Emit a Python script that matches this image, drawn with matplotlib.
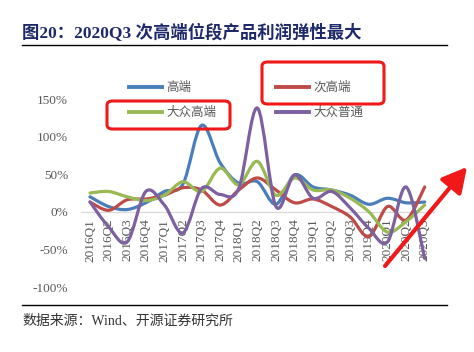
import numpy as np
import matplotlib
matplotlib.use('Agg')
import matplotlib.pyplot as plt
from matplotlib.path import Path
from matplotlib.patches import PathPatch, FancyBboxPatch
from matplotlib.lines import Line2D

plt.rcParams['font.family'] = ['Liberation Serif', 'Noto Sans CJK SC', 'DejaVu Sans']

quarters = ['2016Q1', '2016Q2', '2016Q3', '2016Q4', '2017Q1', '2017Q2', '2017Q3', '2017Q4',
            '2018Q1', '2018Q2', '2018Q3', '2018Q4', '2019Q1', '2019Q2', '2019Q3', '2019Q4',
            '2020Q1', '2020Q2', '2020Q3']

# profit growth, %
high_end = [20, 7, 3, 12, 27, 37, 115, 65, 38, 40, 10, 49, 33, 29, 22, 10, 18, 12, 13]
sub_high = [13, 2, 16, 17, 22, 32, 29, 9, 29, 45, 29, 12, 17, 7, -7, -33, 7, -11, 33]
mass_high = [25, 27, 20, 15, 22, 40, 27, 58, 36, 67, 22, 45, 29, 29, 18, 0, -27, -13, 9]
mass_normal = [13, -20, -40, 27, 9, -28, 31, 23, 31, 138, 7, 49, 18, 27, 5, -22, -40, 33, -62]

series = [('高端', high_end, '#4a7ebb'),
          ('次高端', sub_high, '#be4b48'),
          ('大众高端', mass_high, '#98b954'),
          ('大众普通', mass_normal, '#7d60a0')]

W, H = 474, 352


def px(x, y):
    # figure pixel (from top-left) -> figure fraction
    return x / W, 1 - y / H


def smooth_path(xs, ys):
    # excel style smoothed line, catmull-rom as cubic bezier
    pts = np.column_stack([xs, ys]).astype(float)
    n = len(pts)
    verts = [pts[0]]
    codes = [Path.MOVETO]
    for i in range(n - 1):
        p0 = pts[max(i - 1, 0)]
        p1 = pts[i]
        p2 = pts[i + 1]
        p3 = pts[min(i + 2, n - 1)]
        c1 = p1 + (p2 - p0) / 6
        c2 = p2 - (p3 - p1) / 6
        verts += [c1, c2, p2]
        codes += [Path.CURVE4] * 3
    return Path(verts, codes)


fig = plt.figure(figsize=(4.74, 3.52), dpi=100)
ax = fig.add_axes([80.7 / W, 1 - 287 / H, (434 - 80.7) / W, (287 - 99) / H])

x = np.arange(len(quarters))
handles = {}
for name, vals, color in series:
    patch = PathPatch(smooth_path(x, vals), facecolor='none', edgecolor=color,
                      lw=2.3, capstyle='round', joinstyle='round', zorder=3)
    ax.add_patch(patch)
    handles[name] = Line2D([], [], color=color, lw=2.8)

for s in ['top', 'right', 'left']:
    ax.spines[s].set_visible(False)
ax.spines['bottom'].set_position(('data', 0))
ax.spines['bottom'].set_color('#d9d9d9')
ax.spines['bottom'].set_linewidth(0.9)

ax.set_xlim(-0.5, len(quarters) - 0.5)
ax.set_ylim(-100, 150)
ax.set_yticks([-100, -50, 0, 50, 100, 150])
ax.set_yticklabels(['%d%%' % v for v in [-100, -50, 0, 50, 100, 150]])
ax.set_xticks(x)
ax.set_xticklabels(quarters)
ax.tick_params(axis='y', length=0, pad=9, labelsize=9.5, labelcolor='#595959')
ax.tick_params(axis='x', length=0, pad=5, labelsize=9.5, labelcolor='#595959',
               labelrotation=90)

# legend, two columns
leg_font = {'family': ['Noto Sans CJK SC'], 'size': 9}
for names, left in [(['高端', '大众高端'], 129), (['次高端', '大众普通'], 276)]:
    fig.legend([handles[n] for n in names], names,
               loc='center left', bbox_to_anchor=px(left, 100), frameon=False,
               prop=leg_font, handlelength=2.6, handletextpad=0.4,
               labelspacing=0.95, borderpad=0, borderaxespad=0, labelcolor='#595959')

# red highlight boxes and arrow
for (x0, y0, x1, y1) in [(107, 101, 230, 129), (262, 62, 384, 104)]:
    fx0, fy1 = px(x0, y0)
    fx1, fy0 = px(x1, y1)
    box = FancyBboxPatch((fx0, fy0), fx1 - fx0, fy1 - fy0,
                         boxstyle='round,pad=0,rounding_size=0.012',
                         transform=fig.transFigure, facecolor='none',
                         edgecolor='#f01818', lw=2.2, zorder=5)
    fig.patches.append(box)

ax.annotate('', xy=px(467, 167), xycoords='figure fraction',
            xytext=px(385, 266), textcoords='figure fraction',
            arrowprops=dict(arrowstyle='-|>,head_length=0.6,head_width=0.32',
                            color='#f01818', lw=3, mutation_scale=25,
                            shrinkA=0, shrinkB=0),
            annotation_clip=False, zorder=6)

# title, rules, source
fig.text(*px(22, 33), '图20：2020Q3 次高端位段产品利润弹性最大', fontsize=12.5,
         fontweight='bold', color='#1f2a6b', va='center', ha='left')
fig.add_artist(Line2D([22 / W, 447 / W], [1 - 45 / H, 1 - 45 / H], color='black', lw=1))
fig.add_artist(Line2D([22 / W, 447 / W], [1 - 305 / H, 1 - 305 / H], color='black', lw=1))
fig.text(*px(22, 321), '数据来源：Wind、开源证券研究所', fontsize=10,
         color='#333333', va='center', ha='left')

fig.savefig('out.png', dpi=100)
